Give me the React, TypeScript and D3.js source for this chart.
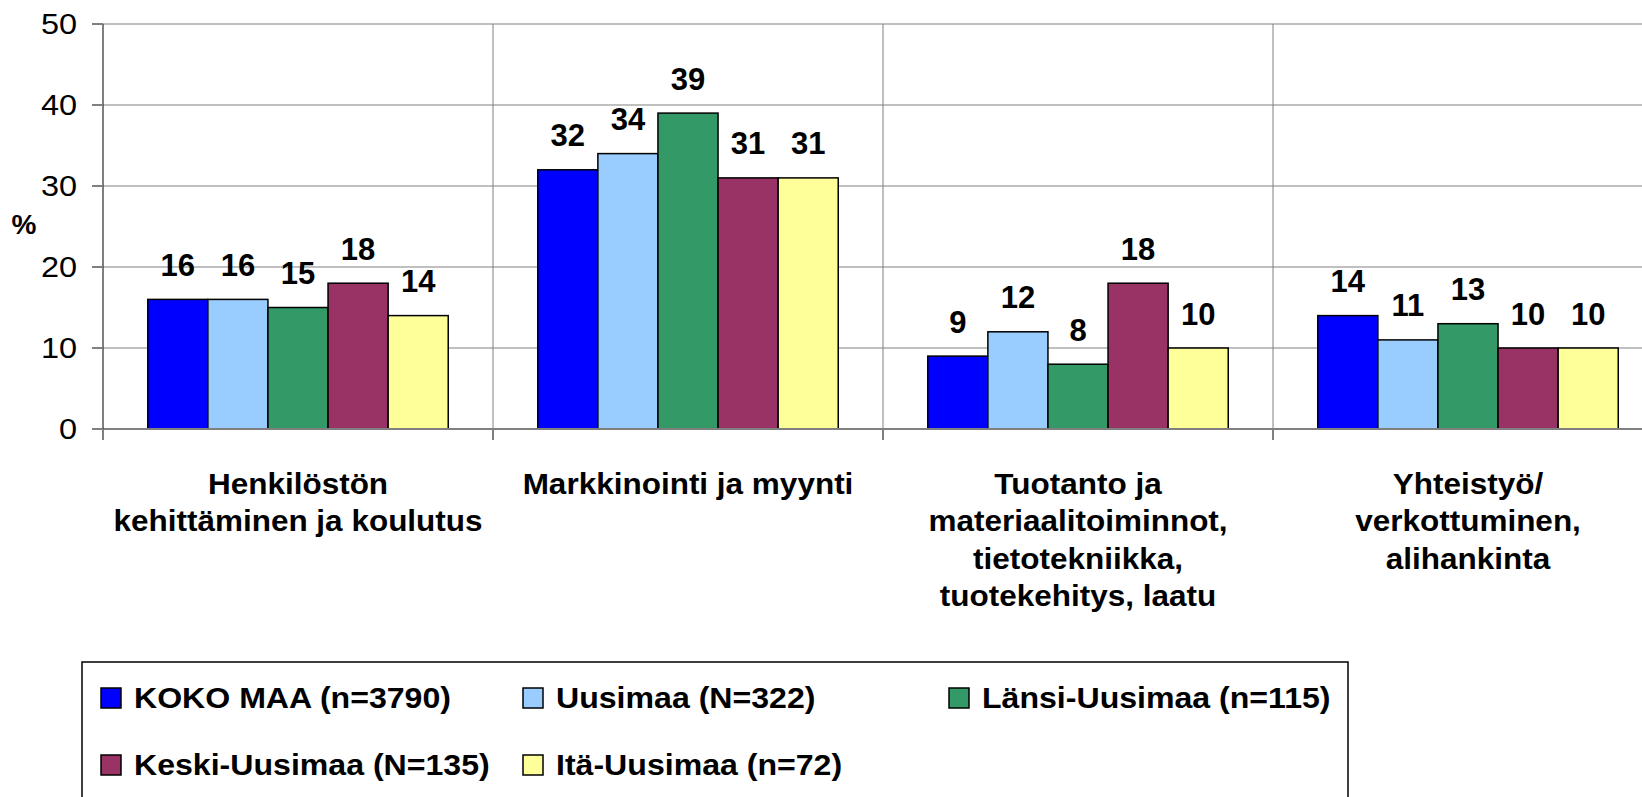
import React from 'react';
import * as d3 from 'd3';

const width = 1642;
const height = 797;
const margin = { top: 24, left: 103 };
const plotBottom = 429;
const bandWidth = 390;

// categories, one entry per line of the label
const categories = [
  ['Henkilöstön', 'kehittäminen ja koulutus'],
  ['Markkinointi ja myynti'],
  ['Tuotanto ja', 'materiaalitoiminnot,', 'tietotekniikka,', 'tuotekehitys, laatu'],
  ['Yhteistyö/', 'verkottuminen,', 'alihankinta'],
];

const seriesNames = [
  'KOKO MAA (n=3790)',
  'Uusimaa (N=322)',
  'Länsi-Uusimaa (n=115)',
  'Keski-Uusimaa (N=135)',
  'Itä-Uusimaa (n=72)',
];
const seriesColors = ['#0000FF', '#99CCFF', '#339966', '#993366', '#FFFF99'];

const kokoMaa = [16, 32, 9, 14];
const uusimaa = [16, 34, 12, 11];
const lansiUusimaa = [15, 39, 8, 13];
const keskiUusimaa = [18, 31, 18, 10];
const itaUusimaa = [14, 31, 10, 10];
const seriesValues = [kokoMaa, uusimaa, lansiUusimaa, keskiUusimaa, itaUusimaa];

const yTicks = [0, 10, 20, 30, 40, 50];

const font = '"Liberation Sans", Arial, sans-serif';

export default function App() {
  const catIdx = categories.map((_, i) => i);

  const xScale = d3
    .scaleBand<number>()
    .domain(catIdx)
    .range([margin.left, margin.left + bandWidth * categories.length]);

  const barScale = d3
    .scaleBand<number>()
    .domain(seriesNames.map((_, i) => i))
    .range([0, bandWidth])
    .paddingInner(0)
    .paddingOuter(0.745);

  const yScale = d3.scaleLinear().domain([0, 50]).range([plotBottom, margin.top]);

  // legend layout: two rows, three columns
  const legendCols = [101, 523, 949];
  const legendRows = [688, 755];

  return (
    <svg
      width={width}
      height={height}
      style={{ position: 'absolute', left: 0, top: 0, background: '#fff' }}
      fontFamily={font}
    >
      {/* horizontal gridlines */}
      {yTicks.slice(1).map(t => (
        <line key={'g' + t} x1={margin.left} x2={width} y1={yScale(t)} y2={yScale(t)} stroke="#c0c0c0" strokeWidth={2} />
      ))}
      {/* vertical gridlines at category boundaries */}
      {catIdx.slice(1).map(i => (
        <line key={'v' + i} x1={xScale(i)} x2={xScale(i)} y1={margin.top} y2={plotBottom} stroke="#808080" strokeWidth={1} />
      ))}
      {/* category ticks below axis */}
      {catIdx.map(i => (
        <line key={'ct' + i} x1={xScale(i)} x2={xScale(i)} y1={plotBottom} y2={440} stroke="#000" strokeWidth={1} />
      ))}

      {/* bars */}
      {seriesValues.map((vals, s) =>
        vals.map((v, c) => {
          const x = (xScale(c) as number) + (barScale(s) as number);
          return (
            <rect
              key={'b' + s + '-' + c}
              x={x}
              y={yScale(v)}
              width={barScale.bandwidth()}
              height={plotBottom - yScale(v)}
              fill={seriesColors[s]}
              stroke="#000"
              strokeWidth={1.5}
            />
          );
        })
      )}

      {/* value labels */}
      {seriesValues.map((vals, s) =>
        vals.map((v, c) => (
          <text
            key={'l' + s + '-' + c}
            x={(xScale(c) as number) + (barScale(s) as number) + barScale.bandwidth() / 2}
            y={yScale(v) - 23.5}
            textAnchor="middle"
            fontSize={31}
            fontWeight="bold"
          >
            {v}
          </text>
        ))
      )}

      {/* x axis */}
      <line x1={margin.left} x2={width} y1={plotBottom} y2={plotBottom} stroke="#808080" strokeWidth={2} />
      {/* y axis */}
      <line x1={margin.left} x2={margin.left} y1={margin.top} y2={plotBottom} stroke="#000" strokeWidth={1} />
      {yTicks.map(t => (
        <g key={'t' + t}>
          <line x1={92} x2={margin.left} y1={yScale(t)} y2={yScale(t)} stroke="#808080" strokeWidth={2} />
          <text
            transform={`translate(77,${yScale(t)}) scale(1.12,1)`}
            dy="0.36em"
            textAnchor="end"
            fontSize={29}
          >
            {t}
          </text>
        </g>
      ))}
      <text x={24} y={234} textAnchor="middle" fontSize={28} fontWeight="bold">%</text>

      {/* category labels */}
      {categories.map((lines, c) => {
        const cx = (xScale(c) as number) + bandWidth / 2;
        return (
          <g key={'c' + c} transform={`translate(${cx},0) scale(1.05,1)`}>
            {lines.map((ln, k) => (
              <text key={k} x={0} y={494 + k * 37.5} textAnchor="middle" fontSize={30} fontWeight="bold">
                {ln}
              </text>
            ))}
          </g>
        );
      })}

      {/* legend */}
      <rect x={82} y={662} width={1266} height={200} fill="#fff" stroke="#000" strokeWidth={1.5} />
      {seriesNames.map((name, s) => {
        const lx = legendCols[s % 3];
        const ly = legendRows[Math.floor(s / 3)];
        return (
          <g key={'lg' + s}>
            <rect x={lx} y={ly} width={20} height={20} fill={seriesColors[s]} stroke="#000" strokeWidth={1.5} />
            <text transform={`translate(${lx + 33},${ly + 20}) scale(1.07,1)`} fontSize={30} fontWeight="bold">
              {name}
            </text>
          </g>
        );
      })}
    </svg>
  );
}
